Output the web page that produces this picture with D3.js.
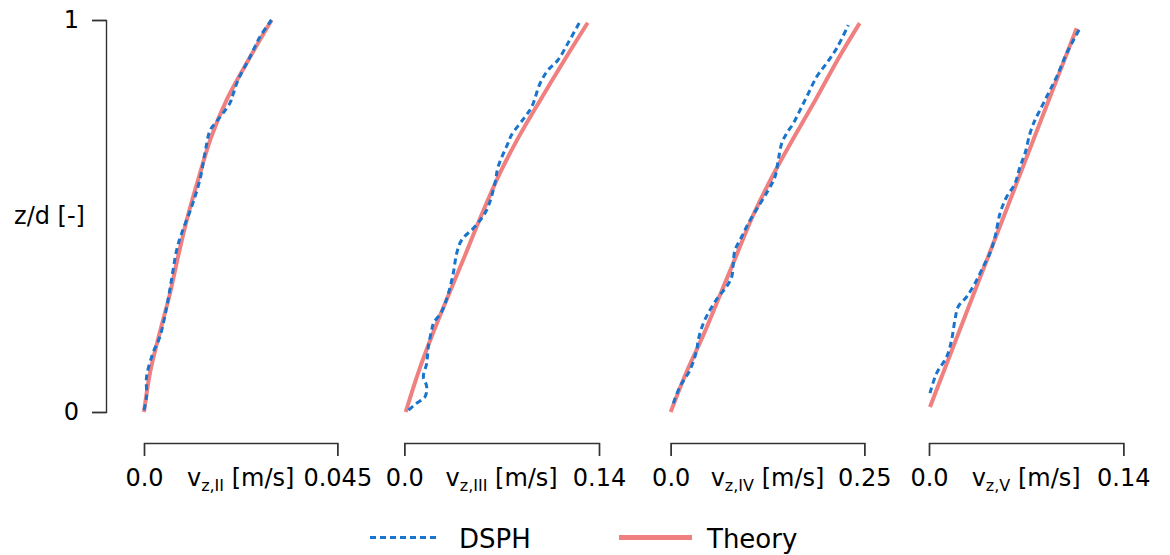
<!DOCTYPE html>
<html>
<head>
<meta charset="utf-8">
<script src="https://cdn.jsdelivr.net/npm/d3@7"></script>
<style>
  body { margin: 0; background: #fff; }
  svg { display: block; font-family: "DejaVu Sans", Verdana, sans-serif; }
</style>
</head>
<body>
<svg id="chart" width="1170" height="555"></svg>
<script>
// panels and their x-axis ends
const panelNames = ["II", "III", "IV", "V"];
const xMax = [0.045, 0.14, 0.25, 0.14];
const xTickLabels = [["0.0", "0.045"], ["0.0", "0.14"], ["0.0", "0.25"], ["0.0", "0.14"]];
const yTickLabels = ["0", "1"];

// [z/d, v] pairs
const dsphII = [[0.005,0.0000],[0.039,0.0006],[0.090,0.0006],[0.151,0.0021],[0.192,0.0037],[0.269,0.0053],
  [0.337,0.0064],[0.413,0.0076],[0.457,0.0088],[0.524,0.0111],[0.592,0.0130],[0.661,0.0142],[0.719,0.0154],
  [0.741,0.0169],[0.788,0.0200],[0.809,0.0207],[0.847,0.0219],[0.906,0.0247],[0.957,0.0270],[1.000,0.0297]];
const theoryII = [[0,0],[0.1,0.0014],[0.2,0.0036],[0.3,0.0060],[0.4,0.0080],[0.5,0.0102],[0.6,0.0128],
  [0.7,0.0156],[0.8,0.0194],[0.9,0.0244],[1.0,0.0297]];

const dsphIII = [[0.005,0.0030],[0.020,0.0080],[0.039,0.0149],[0.065,0.0161],[0.090,0.0137],[0.124,0.0161],
  [0.167,0.0173],[0.209,0.0197],[0.226,0.0209],[0.256,0.0269],[0.303,0.0317],[0.354,0.0352],[0.405,0.0377],
  [0.439,0.0413],[0.473,0.0508],[0.515,0.0592],[0.584,0.0652],[0.625,0.0674],[0.686,0.0746],[0.707,0.0772],
  [0.753,0.0868],[0.778,0.0916],[0.839,0.0977],[0.872,0.1033],[0.898,0.1105],[0.941,0.1177],[0.996,0.1263]];
const theoryIII = [[0,0.001],[0.1,0.010],[0.2,0.0205],[0.3,0.032],[0.4,0.0437],[0.5,0.0552],[0.6,0.0675],
  [0.7,0.0820],[0.8,0.0985],[0.9,0.1155],[0.993,0.1319]];

const dsphIV = [[0.022,0.0034],[0.065,0.0120],[0.107,0.0249],[0.158,0.0336],[0.184,0.0356],[0.226,0.0421],
  [0.260,0.0507],[0.294,0.0615],[0.320,0.0723],[0.345,0.0788],[0.379,0.0808],[0.413,0.0830],[0.447,0.0917],
  [0.481,0.1002],[0.524,0.1131],[0.566,0.1260],[0.600,0.1347],[0.643,0.1389],[0.685,0.1433],[0.711,0.1498],
  [0.736,0.1583],[0.770,0.1670],[0.804,0.1756],[0.855,0.1885],[0.890,0.2014],[0.928,0.2144],[0.987,0.2293]];
const theoryIV = [[0,0],[0.1,0.020],[0.2,0.043],[0.3,0.064],[0.4,0.085],[0.5,0.106],[0.6,0.131],
  [0.7,0.159],[0.8,0.188],[0.9,0.216],[0.992,0.244]];

const dsphV = [[0.048,0.0007],[0.099,0.0055],[0.141,0.0128],[0.184,0.0163],[0.235,0.0187],[0.269,0.0211],
  [0.294,0.0272],[0.328,0.0331],[0.371,0.0391],[0.405,0.0439],[0.447,0.0476],[0.507,0.0512],[0.549,0.0560],
  [0.583,0.0620],[0.626,0.0656],[0.660,0.0692],[0.711,0.0728],[0.745,0.0764],[0.770,0.0800],[0.813,0.0860],
  [0.855,0.0920],[0.915,0.0992],[0.979,0.1088]];
const theoryV = [[0.013,0.0007],[0.25,0.0266],[0.5,0.0540],[0.75,0.0813],[0.979,0.1064]];

const dsphSets = [dsphII, dsphIII, dsphIV, dsphV];
const theorySets = [theoryII, theoryIII, theoryIV, theoryV];

const legendLabels = ["DSPH", "Theory"];

// layout
const panelLeft = [144, 404.3, 670.7, 929];
const panelRight = [337.3, 599, 864.3, 1123.3];
const plotTop = 20, plotBottom = 412, xAxisY = 443;
const blue = "#1874cd", red = "#f08080", axisCol = "#333";

const svg = d3.select("#chart");

const y = d3.scaleLinear().domain([0, 1]).range([plotBottom, plotTop]);

// y axis
const yAxis = svg.append("g")
    .attr("transform", "translate(106,0)")
    .call(d3.axisLeft(y).tickValues([0, 1]).tickSize(14).tickSizeOuter(14).tickPadding(13)
      .tickFormat((d, i) => yTickLabels[i]));
yAxis.selectAll("path, line").attr("stroke", axisCol).attr("stroke-width", 1.4);
yAxis.selectAll("text").attr("font-size", 24).attr("font-family", "DejaVu Sans").attr("fill", "#000");

svg.append("text")
    .attr("x", 49.5).attr("y", 216)
    .attr("text-anchor", "middle").attr("dominant-baseline", "central")
    .attr("font-size", 24)
    .text("z/d [-]");

panelNames.forEach(function (name, i) {
    let x = d3.scaleLinear().domain([0, xMax[i]]).range([panelLeft[i], panelRight[i]]);

    let ax = svg.append("g")
        .attr("transform", "translate(0," + xAxisY + ")")
        .call(d3.axisBottom(x).tickValues([0, xMax[i]]).tickSize(13).tickSizeOuter(13).tickPadding(13)
          .tickFormat((d, j) => xTickLabels[i][j]));
    ax.selectAll("path, line").attr("stroke", axisCol).attr("stroke-width", 1.4);
    ax.selectAll("text").attr("font-size", 24).attr("font-family", "DejaVu Sans").attr("fill", "#000");

    let lab = svg.append("text")
        .attr("x", (panelLeft[i] + panelRight[i]) / 2)
        .attr("y", 486)
        .attr("text-anchor", "middle")
        .attr("font-size", 24);
    lab.append("tspan").text("v");
    lab.append("tspan").attr("font-size", 16).attr("dy", 5).text("z," + name);
    lab.append("tspan").attr("dy", -5).text(" [m/s]");

    let line = d3.line()
        .x(d => x(d[1]))
        .y(d => y(d[0]))
        .curve(d3.curveCatmullRom);

    svg.append("path")
        .datum(theorySets[i])
        .attr("d", line)
        .attr("fill", "none")
        .attr("stroke", red)
        .attr("stroke-width", 4);

    svg.append("path")
        .datum(dsphSets[i])
        .attr("d", line)
        .attr("fill", "none")
        .attr("stroke", blue)
        .attr("stroke-width", 3)
        .attr("stroke-dasharray", "6,4");
});

// legend
const leg = svg.append("g");
leg.append("line")
    .attr("x1", 370).attr("x2", 440).attr("y1", 537.5).attr("y2", 537.5)
    .attr("stroke", blue).attr("stroke-width", 3).attr("stroke-dasharray", "6,4");
leg.append("text").attr("x", 459).attr("y", 548).attr("font-size", 26).text(legendLabels[0]);
leg.append("line")
    .attr("x1", 619).attr("x2", 692).attr("y1", 537.5).attr("y2", 537.5)
    .attr("stroke", red).attr("stroke-width", 5);
leg.append("text").attr("x", 707).attr("y", 548).attr("font-size", 26).text(legendLabels[1]);
</script>
</body>
</html>
